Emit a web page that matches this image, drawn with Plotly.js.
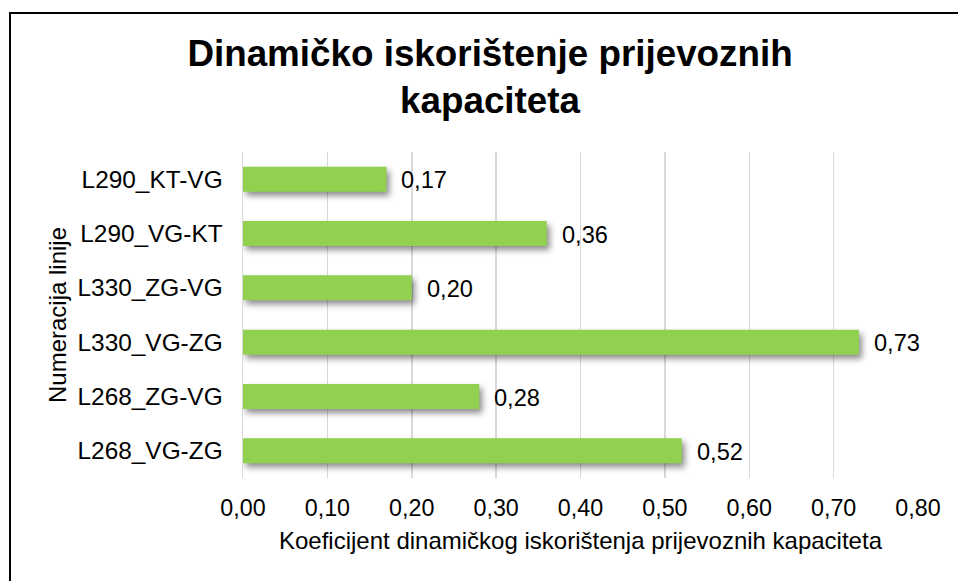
<!DOCTYPE html>
<html>
<head>
<meta charset="utf-8">
<script src="https://cdn.plot.ly/plotly-3.0.1.min.js"></script>
<style>
  html, body { margin: 0; padding: 0; background: #fff; overflow: hidden; }
  #chart { position: absolute; left: 0; top: 0; width: 958px; height: 581px; }
  #frame {
    position: absolute; left: 9px; top: 12px; width: 2000px; height: 2000px;
    border: 2px solid #000; pointer-events: none; box-sizing: border-box;
  }
  /* soft shadow under each bar */
  #chart .barlayer .point path { filter: drop-shadow(3px 4px 3px rgba(0,0,0,0.45)); }
</style>
</head>
<body>
<div id="chart"></div>
<div id="frame"></div>
<script>
// Lines, listed bottom to top as they appear on the category axis
const lines = ['L268_VG-ZG', 'L268_ZG-VG', 'L330_VG-ZG', 'L330_ZG-VG', 'L290_VG-KT', 'L290_KT-VG'];
const coefficients = [0.52, 0.28, 0.73, 0.20, 0.36, 0.17];
const tickValues = [0, 0.1, 0.2, 0.3, 0.4, 0.5, 0.6, 0.7, 0.8];
const tickLabels = ['0,00', '0,10', '0,20', '0,30', '0,40', '0,50', '0,60', '0,70', '0,80'];

const FONT = 'Arial, "Liberation Sans", sans-serif';
const fmt = v => v.toFixed(2).replace('.', ',');

const trace = {
  type: 'bar',
  orientation: 'h',
  y: lines,
  x: coefficients,
  marker: { color: '#92D050', line: { width: 0 } },
  hoverinfo: 'none'
};

const labels = coefficients.map((v, i) => ({
  x: v, y: lines[i], xref: 'x', yref: 'y',
  text: fmt(v), showarrow: false,
  xanchor: 'left', yanchor: 'middle', xshift: 13, yshift: -1,
  font: { family: FONT, size: 23.6, color: '#000' }
}));

const layout = {
  width: 958, height: 581,
  margin: { l: 243, r: 40, t: 152, b: 103 },
  paper_bgcolor: '#fff', plot_bgcolor: '#fff',
  showlegend: false,
  bargap: 0.54,
  title: {
    text: '<b>Dinamičko iskorištenje prijevoznih<br>kapaciteta</b>',
    font: { family: FONT, size: 36.8, color: '#000' },
    x: 0.5115, xanchor: 'center', xref: 'container',
    y: 0.887, yanchor: 'middle', yref: 'container'
  },
  xaxis: {
    range: [0, 0.8],
    tickvals: tickValues, ticktext: tickLabels,
    showgrid: true, gridcolor: '#d9d9d9', gridwidth: 1.5,
    zeroline: false, showline: false, ticks: '',
    ticklabelstandoff: 14,
    tickfont: { family: FONT, size: 23.3, color: '#000' },
    title: {
      text: 'Koeficijent dinamičkog iskorištenja prijevoznih kapaciteta',
      font: { family: FONT, size: 24, color: '#000' },
      standoff: 11
    }
  },
  yaxis: {
    type: 'category',
    categoryorder: 'array', categoryarray: lines,
    showgrid: false, zeroline: false,
    showline: true, linecolor: '#d9d9d9', linewidth: 1.5,
    ticks: '', ticklabelstandoff: 14,
    tickfont: { family: FONT, size: 24.4, color: '#000' },
    title: {
      text: 'Numeracija linije',
      font: { family: FONT, size: 24, color: '#000' },
      standoff: 4
    }
  },
  annotations: labels
};

Plotly.newPlot('chart', [trace], layout, { displayModeBar: false, staticPlot: true });
</script>
</body>
</html>
